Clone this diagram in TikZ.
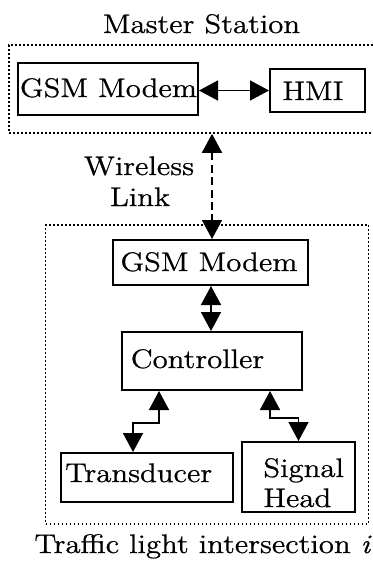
\documentclass[tikz,border=0pt]{standalone}
\usepackage{fontspec}
\setmainfont{Latin Modern Roman}[FakeStretch=1.15,FakeBold=0.8]
\usetikzlibrary{arrows.meta,calc}
\begin{document}
\begin{tikzpicture}[x=0.5pt,y=-0.5pt,
  every node/.style={font=\fontsize{13.4}{15.5}\selectfont},
  blk/.style={draw,line width=1pt,inner sep=0pt,anchor=center},
  grp/.style={draw,line width=0.8pt,dash pattern=on 0.8pt off 1.2pt,inner sep=0pt},
  biarr/.style={line width=0.8pt,{Triangle[length=9.5pt,width=10pt]}-{Triangle[length=9.5pt,width=10pt]}},
  plain/.style={inner sep=0pt,anchor=base}]
\useasboundingbox (0,0) rectangle (373,562);
% groups
\begin{scope}
\clip (0,0) rectangle (373,562);
\node[grp,minimum width=372*0.5pt,minimum height=88*0.5pt] (top) at (195,89) {};
\end{scope}
\node[grp,minimum width=323*0.5pt,minimum height=299*0.5pt] (bot) at (207,374.5) {};
\node[plain] (ttl) at (201.5,33) {Master Station};
\node[plain] (cap) at (203,553) {Traffic light intersection \textit{i}};
% blocks
\node[blk,minimum width=180*0.5pt,minimum height=52*0.5pt] (gsm1) at (108,89) {};
\node[plain] (gsm1txt) at (108.5,97) {GSM Modem};
\node[blk,minimum width=95*0.5pt,minimum height=43*0.5pt] (hmi) at (317.5,90.5) {};
\node[plain] (hmitxt) at (313,100) {HMI};
\node[blk,minimum width=195*0.5pt,minimum height=45*0.5pt] (gsm2) at (210,262.5) {};
\node[plain] (gsm2txt) at (209,271) {GSM Modem};
\node[blk,minimum width=180*0.5pt,minimum height=58*0.5pt] (ctrl) at (212,361) {};
\node[plain] (ctrltxt) at (197.5,368) {Controller};
\node[blk,minimum width=172*0.5pt,minimum height=49*0.5pt] (trans) at (147,477.5) {};
\node[plain] (transtxt) at (138.7,482) {Transducer};
\node[blk,minimum width=113*0.5pt,minimum height=70*0.5pt] (sig) at (298.5,477) {};
\node[plain,anchor=base west] (sigtxt) at (263,477) {Signal};
\node[plain,anchor=base west] (sigtxt2) at (263,507) {Head};
\node[plain] (wl1) at (139,175) {Wireless};
\node[plain] (wl2) at (140,206) {Link};
% connectors
\draw[biarr] (gsm1.east |- hmi.west) -- (hmi.west);
\draw[line width=0.8pt,dash pattern=on 4pt off 2.2pt,{Triangle[length=9.5pt,width=10pt]}-{Triangle[length=9.5pt,width=10pt]}] ($(gsm2.north |- top.south)+(2,0)$) -- ($(gsm2.north)+(2,0)$);
\draw[biarr] ($(gsm2.south)+(1,0)$) -- ($(gsm2.south |- ctrl.north)+(1,0)$);
\draw[biarr] ($(ctrl.south)+(-53,0)$) -- ++(0,32) -| ($(trans.north)+(-14,0)$);
\draw[biarr] ($(ctrl.south)+(58,0)$) -- ++(0,27) -| (sig.north);
\end{tikzpicture}
\end{document}
